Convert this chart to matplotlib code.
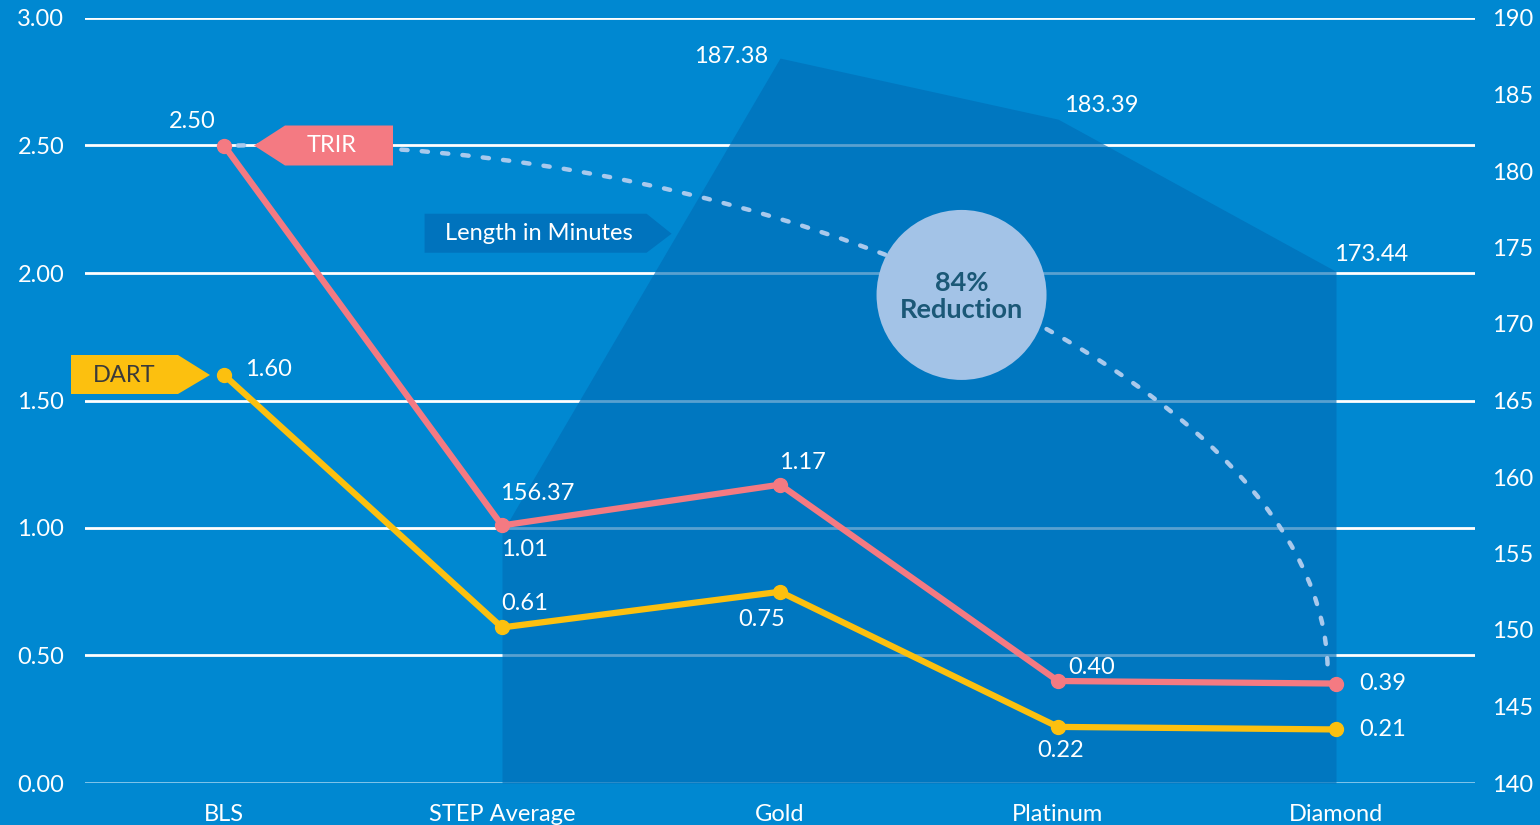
import matplotlib
matplotlib.use("Agg")
import matplotlib.pyplot as plt
import matplotlib.transforms as mtransforms
from matplotlib.patches import Polygon, Circle, PathPatch
from matplotlib.path import Path

plt.rcParams['font.family'] = ['Lato', 'DejaVu Sans']

# data
categories = ['BLS', 'STEP Average', 'Gold', 'Platinum', 'Diamond']
trir = [2.50, 1.01, 1.17, 0.40, 0.39]
dart = [1.60, 0.61, 0.75, 0.22, 0.21]
length_cats = ['STEP Average', 'Gold', 'Platinum', 'Diamond']
length_minutes = [156.37, 187.38, 183.39, 173.44]
left_ticks = [0, 0.5, 1.0, 1.5, 2.0, 2.5, 3.0]
right_ticks = [140, 145, 150, 155, 160, 165, 170, 175, 180, 185, 190]

BG = '#0088d1'
AREA = '#006eb7'
PINK = '#f47a82'
YELLOW = '#fcc00f'
WHITE = 'white'
FS = 17

fig = plt.figure(figsize=(15.4, 8.25), dpi=100, facecolor=BG)
ax = fig.add_axes([85 / 1540, 42 / 825, 1390 / 1540, 765 / 825])
ax2 = ax.twinx()

x = list(range(len(categories)))
xa = [categories.index(c) for c in length_cats]

ax.set_xlim(-0.5, 4.5)
ax.set_ylim(0, 3)
ax2.set_ylim(140, 190)

# ax2 (area + gridlines) sits behind ax (lines, labels)
ax2.set_zorder(0)
ax2.patch.set_visible(True)
ax2.patch.set_facecolor(BG)
ax.set_zorder(2)
ax.patch.set_visible(False)

# gridlines at the left-axis ticks, drawn under the area
for t in left_ticks:
    col = '#8ccaec' if t == 0 else WHITE
    ax2.axhline(140 + t / 3 * 50, color=col, lw=2, zorder=1)
ax2.fill_between(xa, length_minutes, 140, color=AREA, alpha=0.65, lw=0, zorder=2)

for a in (ax, ax2):
    for s in a.spines.values():
        s.set_visible(False)
    a.tick_params(length=0, colors=WHITE, labelsize=FS)

ax.set_yticks(left_ticks)
ax.set_yticklabels(['%.2f' % t for t in left_ticks])
ax.tick_params(axis='y', pad=15)
ax2.set_yticks(right_ticks)
ax2.set_yticklabels([str(t) for t in right_ticks])
ax2.tick_params(axis='y', pad=12)
ax.set_xticks(x)
ax.set_xticklabels(categories)
ax.tick_params(axis='x', pad=15)

# dotted reduction curve (decoration)
curve = Path([(0.05, 2.50), (2.0, 2.55), (3.95, 1.55), (3.97, 0.45)],
             [Path.MOVETO, Path.CURVE4, Path.CURVE4, Path.CURVE4])
ax.add_patch(PathPatch(curve, fill=False, ec='#a9c9ec', lw=3.2,
                       linestyle=(0, (1.4, 3.2)), capstyle='round', zorder=3))

# lines
ax.plot(x, trir, color=PINK, lw=4.5, marker='o', ms=10, zorder=5,
        solid_capstyle='round')
ax.plot(x, dart, color=YELLOW, lw=4.5, marker='o', ms=10, zorder=5,
        solid_capstyle='round')

lab = dict(color=WHITE, fontsize=FS, textcoords='offset points', zorder=8)
trir_off = [(-23, 17, 'center'), (16, -17, 'center'), (16, 16, 'center'),
            (24, 10, 'center'), (17, 0, 'left')]
dart_off = [(15, 4, 'left'), (16, 17, 'center'), (-13, -20, 'center'),
            (2, -17, 'center'), (17, 0, 'left')]
for i, v in enumerate(trir):
    dx, dy, ha = trir_off[i]
    ax.annotate('%.2f' % v, (x[i], v), xytext=(dx, dy), ha=ha, va='center', **lab)
for i, v in enumerate(dart):
    dx, dy, ha = dart_off[i]
    ax.annotate('%.2f' % v, (x[i], v), xytext=(dx, dy), ha=ha, va='center', **lab)
area_off = [(25, 28), (-35, 1), (31, 10), (25, 12)]
for i, v in enumerate(length_minutes):
    ax2.annotate('%.2f' % v, (xa[i], v), xytext=area_off[i], ha='center',
                 va='center', **lab)


def tag(axis, xd, yd, verts, color, text, tx, tcolor):
    off = mtransforms.ScaledTranslation(xd, yd, axis.transData)
    tr = fig.dpi_scale_trans + off
    pts = [(vx / 100, vy / 100) for vx, vy in verts]
    axis.add_patch(Polygon(pts, closed=True, fc=color, ec='none',
                           transform=tr, zorder=7, clip_on=False))
    axis.text(tx / 100, 0, text, transform=tr, color=tcolor, fontsize=FS,
              ha='center', va='center', zorder=8)


tag(ax, x[0], trir[0], [(30, 0), (61, 20), (169, 20), (169, -20), (61, -20)],
    PINK, 'TRIR', 108, WHITE)
tag(ax, x[0], dart[0], [(-14, 0), (-46, 20), (-153, 20), (-153, -19), (-46, -19)],
    YELLOW, 'DART', -100, '#3a3a3a')
tag(ax2, 1.61, 175.9, [(0, 0), (-25, 20), (-247, 20), (-247, -19), (-25, -19)],
    '#0073bd', 'Length in Minutes', -133, WHITE)

# reduction bubble
off = mtransforms.ScaledTranslation(2.653, 1.914, ax.transData)
ctr = fig.dpi_scale_trans + off
ax.add_patch(Circle((0, 0), 0.85, transform=ctr, fc='#a3c3e7', ec='none',
                    zorder=6, clip_on=False))
ax.text(0, -0.02, '84%\nReduction', transform=ctr, ha='center', va='center',
        fontsize=19.5, fontweight='bold', color='#1b5877', zorder=8,
        linespacing=1.15)

fig.savefig('out.png', dpi=100, facecolor=BG)
